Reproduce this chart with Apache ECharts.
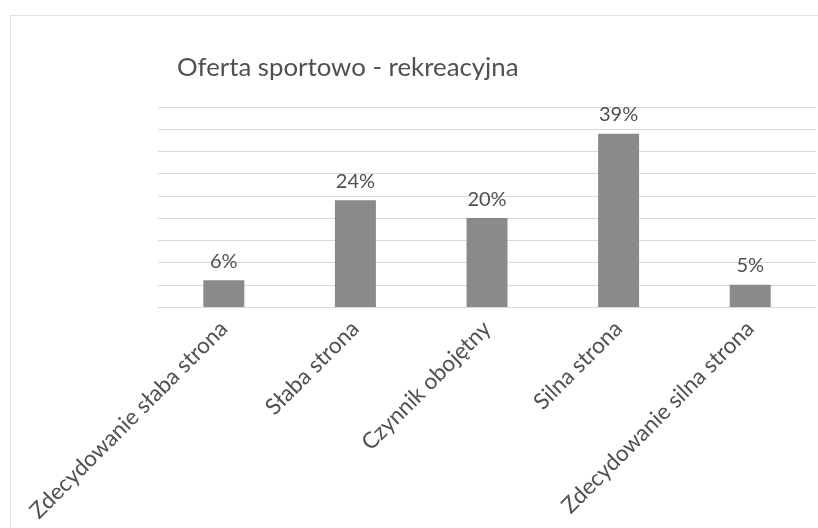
<!DOCTYPE html>
<html>
<head>
<meta charset="utf-8">
<script src="https://cdn.jsdelivr.net/npm/echarts@6/dist/echarts.min.js"></script>
<style>
html,body{margin:0;padding:0;background:#fff;}
#frame{position:absolute;left:10px;top:15px;width:820px;height:520px;border:1px solid #e3e3e3;box-sizing:border-box;}
#chart{position:absolute;left:0;top:0;width:818px;height:528px;}
</style>
</head>
<body>
<div id="frame"></div>
<div id="chart"></div>
<script>
const titleText = 'Oferta sportowo - rekreacyjna';
const categories = ['Zdecydowanie słaba strona', 'Słaba strona', 'Czynnik obojętny', 'Silna strona', 'Zdecydowanie silna strona'];
const values = [6, 24, 20, 39, 5];
const axisMin = 0, axisMax = 45, axisStep = 5;

const FONT = 'Lato';
const chart = echarts.init(document.getElementById('chart'), null, {renderer: 'canvas'});
chart.setOption({
  backgroundColor: 'transparent',
  animation: false,
  title: {
    text: titleText,
    left: 172,
    top: 50,
    textStyle: {fontFamily: FONT, fontSize: 25.8, fontWeight: 'normal', color: '#505050'}
  },
  grid: {left: 158, right: 2, top: 107, bottom: 221, containLabel: false},
  xAxis: {
    type: 'category',
    data: categories,
    axisLine: {show: true, lineStyle: {color: '#d9d9d9', width: 1}},
    axisTick: {show: false},
    axisLabel: {rotate: 45, interval: 0, margin: 18, fontFamily: FONT, fontSize: 22.5, color: '#505050'}
  },
  yAxis: {
    type: 'value',
    min: axisMin, max: axisMax, interval: axisStep,
    axisLabel: {show: false},
    axisLine: {show: false},
    axisTick: {show: false},
    splitLine: {lineStyle: {color: '#d9d9d9', width: 1}}
  },
  series: [{
    type: 'bar',
    data: values,
    barWidth: 41,
    itemStyle: {color: '#8a8a8a'},
    label: {show: true, position: 'top', distance: 9, formatter: '{c}%', fontFamily: FONT, fontSize: 20, color: '#505050'}
  }]
});
</script>
</body>
</html>
